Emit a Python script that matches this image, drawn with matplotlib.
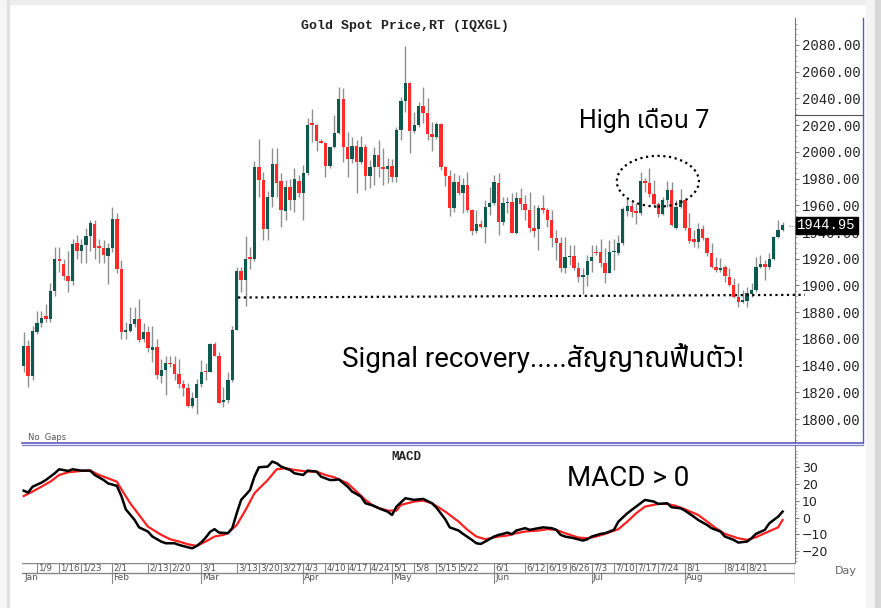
import numpy as np
import pandas as pd
import matplotlib
matplotlib.use('Agg')
from matplotlib import pyplot as plt
from matplotlib.patches import Ellipse, Rectangle
from matplotlib.lines import Line2D

# trading days shown on the chart (all weekdays)
days = pd.bdate_range('2023-01-04', '2023-08-31')

opens = [1840, 1855, 1832, 1865, 1872, 1877, 1875, 1896, 1920, 1916,
         1907, 1903, 1932, 1926, 1930, 1937, 1946, 1928.5, 1928, 1922,
         1928, 1950, 1912, 1865, 1866, 1871, 1875, 1860, 1865, 1852,
         1854, 1832, 1837, 1842, 1841, 1834, 1826, 1823, 1810, 1816,
         1826, 1836, 1835, 1856, 1847, 1813, 1814, 1829, 1867, 1911,
         1904, 1921, 1920, 1989, 1979, 1942, 1966, 1991, 1978, 1956,
         1974, 1964, 1978, 1969.5, 1984, 2020.5, 2020, 2008.4, 2007, 1989.4,
         2003.4, 2014.4, 2039.3, 2004, 1994.4, 2004.4, 1992.7, 2004, 1982, 1988.4,
         1997.7, 1988.4, 1987, 1989.4, 1981.4, 2016.4, 2038.3, 2051.3, 2015.9, 2020.1,
         2034.3, 2029.3, 2013.4, 2010.9, 2020.6, 1988.9, 1982, 1957.7, 1977.2, 1969,
         1975.2, 1956.5, 1940.8, 1946, 1944, 1959, 1962, 1977, 1947.8, 1961.5,
         1962.7, 1939, 1965.7, 1960.7, 1956.5, 1942.8, 1942, 1957.7, 1956.5, 1949,
         1935.3, 1931.6, 1912.8, 1921.1, 1922.3, 1912.8, 1906.6, 1907.9, 1918.6, 1925.3,
         1925.3, 1916.6, 1909.6, 1924.8, 1924.1, 1931.6, 1956, 1959.5, 1955.7, 1954,
         1978.4, 1976.4, 1968.5, 1961, 1953.5, 1964, 1971.5, 1942.8, 1959, 1964,
         1942.8, 1934.5, 1932.8, 1942.3, 1935.3, 1924.1, 1913.6, 1911.6, 1913.6, 1906.6,
         1900.4, 1891.6, 1887.9, 1888.6, 1893.6, 1896.6, 1914.1, 1916.1, 1913.6, 1919.6,
         1936, 1941.5]
highs = [1865, 1859, 1870, 1881, 1881, 1886, 1902, 1929, 1929, 1920,
         1926, 1935, 1938, 1935, 1943, 1949, 1949, 1935, 1934, 1932,
         1959, 1954, 1919, 1873, 1884, 1884, 1890, 1872, 1870, 1870,
         1860, 1845, 1847, 1847, 1847, 1845, 1829, 1827, 1820, 1830,
         1844, 1842, 1857, 1858, 1850, 1824, 1835, 1870, 1914, 1914,
         1937, 1929, 1993, 2010, 1985, 1971, 2003, 2003, 1984, 1979,
         1980, 1988, 1983, 1990, 2025, 2032, 2020.5, 2010, 2007.6, 2004,
         2027.6, 2048.8, 2047.6, 2015, 2011.4, 2009, 2012, 2006, 1994, 2003.4,
         2009, 2002.6, 1995.2, 1994.4, 2018.9, 2041.3, 2079, 2052.5, 2030.1, 2037.6,
         2048.3, 2040.1, 2022.6, 2022.6, 2021.4, 1989.4, 1986.4, 1983.9, 1982.7, 1980.2,
         1985.2, 1957, 1956.5, 1949, 1964, 1974, 1982.7, 1984, 1966.5, 1966,
         1969.5, 1970.2, 1972.7, 1967.7, 1970.2, 1960.2, 1960.2, 1967.7, 1957.7, 1956.5,
         1941.5, 1936.5, 1936.5, 1930.3, 1930.3, 1917.8, 1912.8, 1922.8, 1930.3, 1930.3,
         1934.5, 1927.8, 1934, 1934.5, 1937.8, 1959, 1964.5, 1962.7, 1961.5, 1985.2,
         1980.2, 1987.7, 1978.9, 1962.7, 1966.5, 1978.4, 1977.7, 1964, 1971.9, 1964.5,
         1954.5, 1941.5, 1947, 1945.3, 1936, 1931.5, 1921.1, 1920.3, 1915.3, 1912.8,
         1905.3, 1902.1, 1896.6, 1898.6, 1901.6, 1921.1, 1922.8, 1919.1, 1924.1, 1937,
         1949, 1947.8]
lows = [1835, 1824, 1829, 1864, 1869, 1873, 1873, 1892, 1910, 1904,
        1895, 1900, 1920, 1917, 1917, 1926, 1920, 1917, 1917, 1901,
        1925, 1909, 1860, 1860, 1865, 1869, 1858, 1858, 1850, 1843,
        1830, 1827, 1818, 1839, 1829, 1823, 1817, 1809, 1808, 1804,
        1824, 1829, 1835, 1847, 1812, 1809, 1812, 1828, 1867, 1895,
        1885, 1912, 1918, 1966, 1934, 1934, 1959, 1966, 1944, 1949,
        1956.5, 1955, 1966.5, 1949, 1983, 2007.6, 2001, 2007, 1981, 1987.7,
        2002.6, 2013.4, 1992.7, 1981, 1991.4, 1969, 1991, 1971.5, 1972.7, 1975.2,
        1981, 1975.2, 1976.5, 1977.7, 1977.7, 2008.9, 2030.1, 1999.4, 2013.9, 2018.9,
        2021.4, 2008.9, 2000.9, 2009.4, 1986.4, 1974.5, 1952, 1955.2, 1967.7, 1954.5,
        1955, 1937.8, 1939, 1942.8, 1931.5, 1952.7, 1960.2, 1937.8, 1945.3, 1954,
        1939, 1938.5, 1956.5, 1949, 1940.3, 1936.5, 1926.6, 1954, 1944, 1929.1,
        1919, 1910.3, 1909.6, 1915.3, 1911.6, 1902.9, 1893.6, 1899.6, 1910.3, 1922.8,
        1914.1, 1902.1, 1909.1, 1911.6, 1922.8, 1930.3, 1952, 1951.5, 1946, 1952.7,
        1970.2, 1966.5, 1959, 1951.5, 1952.7, 1959, 1944.5, 1942, 1957.7, 1941.5,
        1932, 1929, 1927.8, 1934, 1922, 1912.8, 1910.3, 1910.3, 1902.9, 1899.6,
        1891, 1884.1, 1886.6, 1884.1, 1891.6, 1895.4, 1912.8, 1904.1, 1912, 1919.1,
        1935.3, 1941]
closes = [1855, 1832, 1866, 1872, 1876, 1875, 1896, 1920, 1918, 1907,
          1903, 1931, 1926, 1930, 1937, 1947, 1928, 1928, 1923, 1928,
          1950, 1912, 1865, 1867, 1871, 1875, 1859, 1865, 1853, 1854,
          1833, 1837, 1842, 1841, 1834, 1826, 1823, 1810, 1816, 1826,
          1835, 1835, 1856, 1847, 1812, 1814, 1829, 1867, 1911, 1904,
          1920, 1920, 1989, 1979, 1942, 1966, 1991, 1977, 1956.5, 1974,
          1964, 1980, 1969.5, 1984, 2020, 2020, 2008.4, 2007, 1989.4, 2003.4,
          2014.4, 2039.3, 2004, 1994.4, 2004.4, 1992.7, 2004, 1982, 1988.4, 1997.7,
          1988.4, 1987, 1989.4, 1981.4, 2016.4, 2038.3, 2051.3, 2015.9, 2020.1, 2034.3,
          2029.3, 2013.4, 2010.9, 2020.6, 1988.9, 1982, 1957.7, 1977.2, 1969, 1975.2,
          1956.5, 1940.8, 1946, 1944, 1959, 1962, 1977.2, 1947.8, 1961.5, 1962.7,
          1939, 1965.7, 1960.7, 1956.5, 1942.8, 1941, 1957.7, 1956.5, 1949, 1935.3,
          1931.6, 1912.8, 1921.1, 1922.3, 1912.8, 1906.6, 1907.9, 1918.6, 1921.1, 1924.1,
          1916.6, 1909.6, 1924.8, 1925.3, 1931.6, 1957, 1959.5, 1955.2, 1954, 1978.4,
          1976.4, 1968.5, 1961, 1953.5, 1964, 1971.5, 1945.3, 1959, 1964, 1942.8,
          1933.5, 1932.8, 1942.3, 1935.3, 1924.1, 1913.6, 1911.6, 1912.8, 1907.1, 1900.4,
          1891.6, 1887.9, 1889.1, 1894.1, 1896.6, 1914.1, 1916.1, 1913.6, 1919.6, 1936,
          1941.5, 1944.95]

# MACD line (black) and signal line (red), read at these trading-day indices
macd_idx = [0, 1, 2, 4, 5, 7, 8, 10, 11, 13, 15, 16, 18, 19, 21, 22, 23, 25, 26, 28,
            29, 31, 32, 34, 35, 37, 38, 39, 40, 41, 42, 43, 44, 46, 47, 48, 49, 51, 52, 53,
            55, 56, 57, 58, 60, 61, 63, 64, 66, 67, 69, 70, 71, 73, 74, 76, 77, 79, 80, 82,
            83, 84, 86, 88, 90, 92, 93, 95, 96, 98, 99, 101, 102, 103, 104, 106, 107, 108, 109, 110,
            111, 113, 114, 116, 117, 119, 120, 121, 122, 124, 126, 127, 128, 130, 131, 133, 134, 136, 137, 139,
            140, 142, 143, 145, 146, 148, 149, 151, 152, 154, 155, 157, 158, 160, 161, 163, 164, 165, 167, 168,
            170, 171]
macd_val = [16.1, 15.0, 18.5, 20.9, 22.5, 26.5, 28.9, 27.9, 28.9, 28.1, 28.1, 25.5, 22.5, 20.5, 19.0, 13.0, 5.0, -1.4, -5.8, -8.3,
            -11.3, -14.3, -15.3, -15.3, -16.3, -17.7, -18.3, -16.9, -14.8, -12.0, -8.5, -6.9, -8.9, -9.3, -6.3, 2.6, 10.6, 16.5, 24.5, 30.1,
            30.5, 33.5, 32.5, 30.5, 28.5, 26.5, 25.5, 28.1, 27.5, 24.5, 22.5, 22.5, 22.9, 18.5, 15.6, 12.6, 8.6, 7.0, 5.6, 3.6,
            1.6, 6.6, 11.6, 10.6, 11.2, 8.6, 6.0, -1.0, -5.8, -7.7, -9.7, -13.3, -15.3, -15.7, -14.3, -11.3, -10.3, -9.7, -8.9, -9.9,
            -7.7, -6.3, -7.3, -6.3, -5.8, -6.3, -7.3, -10.3, -11.3, -12.3, -13.7, -12.9, -11.3, -9.7, -9.3, -7.3, -2.4, 2.6, 4.6, 8.6,
            10.6, 9.6, 8.2, 8.6, 6.2, 5.6, 4.2, 0.6, -1.4, -4.4, -6.3, -8.3, -11.3, -13.3, -14.9, -14.3, -12.3, -9.7, -7.3, -3.4,
            0.6, 3.6]
sig_idx = [0, 2, 4, 6, 8, 10, 13, 15, 17, 19, 21, 22, 24, 26, 28, 31, 33, 35, 37, 39,
           41, 43, 45, 46, 48, 50, 52, 55, 57, 59, 61, 64, 66, 68, 70, 73, 75, 77, 79, 82,
           84, 85, 88, 90, 92, 95, 98, 100, 102, 104, 107, 109, 111, 113, 116, 118, 120, 122, 125, 127,
           129, 131, 134, 136, 138, 140, 143, 145, 147, 149, 152, 154, 156, 158, 161, 163, 165, 167, 170, 171]
sig_val = [12.9, 15.6, 18.5, 21.5, 25.5, 27.1, 27.9, 28.1, 25.5, 23.5, 21.5, 17.0, 8.6, 1.6, -5.4, -10.3, -12.9, -14.3, -15.9, -16.9,
           -14.3, -11.3, -10.3, -9.3, -4.4, 4.6, 14.6, 22.5, 28.9, 29.5, 28.5, 27.5, 27.5, 25.5, 24.1, 20.5, 15.6, 10.6, 6.6, 4.2,
           4.2, 7.6, 9.6, 10.2, 8.6, 3.6, -2.4, -7.3, -11.3, -12.9, -11.3, -10.7, -9.3, -8.3, -7.7, -6.9, -7.3, -9.3, -11.9, -12.3,
           -11.3, -9.7, -6.9, -2.4, 2.6, 6.6, 8.2, 8.2, 7.0, 5.0, 1.6, -2.4, -6.3, -9.7, -12.3, -13.3, -11.7, -9.3, -5.8, -1.4]

price_ticks = list(range(1800, 2081, 20))
macd_ticks = [-20, -10, 0, 10, 20, 30]
day_labels = ['1/9', '1/16', '1/23', '2/1', '2/13', '2/20', '3/1', '3/13', '3/20', '3/27',
              '4/3', '4/10', '4/17', '4/24', '5/1', '5/8', '5/15', '5/22', '6/1', '6/12',
              '6/19', '6/26', '7/3', '7/10', '7/17', '7/24', '8/1', '8/14', '8/21']
month_labels = ['Jan', 'Feb', 'Mar', 'Apr', 'May', 'Jun', 'Jul', 'Aug']
last_price = 1944.95
support_level = [1891, 1893]
july_high = 1978

W, H = 881, 608
def fx(x): return x / W
def fy(y): return 1 - y / H

green = '#0b5a50'
red = '#ff2b2b'
wick = '#8f8f8f'
blue = '#5b5bbf'
thai = ['Roboto', 'Noto Sans Thai', 'Noto Sans Thai Looped', 'Loma', 'Garuda', 'DejaVu Sans']

fig = plt.figure(figsize=(W / 100, H / 100), dpi=100)
fig.patch.set_facecolor('white')

# outer light frame
fig.patches.append(Rectangle((0, fy(4)), 1, 4 / H, transform=fig.transFigure, color='#eeeeee', zorder=0))
fig.patches.append(Rectangle((0, 0), 7 / W, 1, transform=fig.transFigure, color='#f6f6f6', zorder=0))
fig.patches.append(Rectangle((fx(7), 0), 2 / W, 1, transform=fig.transFigure, color='#e2e2e2', zorder=0))
fig.patches.append(Rectangle((fx(866), 0), 9 / W, 1, transform=fig.transFigure, color='#f4f4f4', zorder=0))
fig.patches.append(Rectangle((fx(875), 0), 6 / W, 1, transform=fig.transFigure, color='#d8d8d8', zorder=0))

L, R = fx(22), fx(795)
ax = fig.add_axes([L, fy(443), R - L, fy(18) - fy(443)])
axm = fig.add_axes([L, fy(563), R - L, fy(445) - fy(563)])
axd = fig.add_axes([L, fy(590), R - L, fy(563) - fy(590)])
xlim = (-0.38, 173.8)

# ---- candles
x = np.arange(len(days))
o = np.array(opens); h = np.array(highs); l = np.array(lows); c = np.array(closes)
up = c >= o
ax.vlines(x, l, h, color=wick, lw=1, zorder=2)
body = np.maximum(np.abs(c - o), 1.3)
ax.bar(x, body, bottom=np.minimum(o, c), width=0.76,
       color=np.where(up, green, red), edgecolor='none', zorder=3)

ax.set_xlim(*xlim)
ax.set_ylim(1782.1, 2100.2)
for s in ['top', 'left', 'bottom']:
    ax.spines[s].set_visible(False)
ax.spines['right'].set_color('#777777')
ax.set_xticks([])
ax.yaxis.tick_right()
ax.set_yticks(price_ticks)
ax.set_yticklabels(['%.2f' % v for v in price_ticks], family='Liberation Mono', fontsize=10, color='#222222')
ax.set_yticks(np.arange(1784, 2100, 4), minor=True)
ax.tick_params(axis='y', which='major', length=3, width=0.8, color='#777777', pad=2)
ax.tick_params(axis='y', which='minor', length=1.5, width=0.6, color='#999999')

# support line and July high
ax.plot([48.3, 176.0], support_level, color='black', lw=1.6, ls=(0, (1, 1.6)), clip_on=False, zorder=4)
ax.add_patch(Ellipse((142.9, july_high), 18.5, 38, fill=False, ec='black', lw=1.6, ls=(0, (1, 1.6)), zorder=4))

# last price box
ax.text(1.003, (last_price - 1782.1) / (2100.2 - 1782.1), '%.2f' % last_price, transform=ax.transAxes,
        family='Liberation Mono', fontsize=10, color='white', va='center', ha='left', zorder=10,
        bbox=dict(boxstyle='square,pad=0.12', fc='black', ec='black'), clip_on=False)

# ---- MACD panel
axm.plot(macd_idx, macd_val, color='black', lw=1.8, zorder=3)
axm.plot(sig_idx, sig_val, color='#ff2020', lw=1.6, zorder=2)
axm.set_xlim(*xlim)
axm.set_ylim(-27.1, 43.4)
for s in ['top', 'left', 'bottom']:
    axm.spines[s].set_visible(False)
axm.spines['right'].set_color('#777777')
axm.set_xticks([])
axm.yaxis.tick_right()
axm.set_yticks(macd_ticks)
axm.set_yticklabels([('\u2212%d' % -v) if v < 0 else '%d' % v for v in macd_ticks],
                    fontsize=9, color='#222222')
axm.set_yticks(np.arange(-26, 42, 2), minor=True)
axm.tick_params(axis='y', which='major', length=3, width=0.8, color='#777777', pad=2)
axm.tick_params(axis='y', which='minor', length=1.5, width=0.6, color='#999999')

# ---- date strip
axd.set_xlim(*xlim)
axd.set_ylim(0, 1)
axd.axis('off')
axd.plot([0, 1], [1, 1], transform=axd.transAxes, color='#888888', lw=1)
axd.plot([0, 1], [0.64, 0.64], transform=axd.transAxes, color='#888888', lw=1)
axd.plot([1, 1], [0.26, 1], transform=axd.transAxes, color='#777777', lw=1)
for lab in day_labels:
    mth, dd = lab.split('/')
    i = days.get_loc(pd.Timestamp(2023, int(mth), int(dd)))
    axd.plot([i, i], [0.64, 1], color='#888888', lw=0.8)
    axd.text(i + 0.25, 0.82, lab, fontsize=6.3, color='#555555', va='center', ha='left')
for k, lab in enumerate(month_labels):
    i = int(np.argmax(days.month == k + 1))
    if k > 0:
        axd.plot([i, i], [0.26, 0.64], color='#888888', lw=0.8)
    axd.text(i + 0.25, 0.45, lab, fontsize=6.5, color='#555555', va='center', ha='left')

# ---- frame lines
fig.add_artist(Line2D([fx(22), fx(863)], [fy(442.6), fy(442.6)], color=blue, lw=1.2))
fig.add_artist(Line2D([fx(22), fx(863)], [fy(445.2), fy(445.2)], color=blue, lw=0.9, alpha=0.8))
fig.add_artist(Line2D([fx(863), fx(863)], [fy(18), fy(443)], color=blue, lw=1.0))
fig.add_artist(Line2D([fx(795), fx(863)], [fy(114.5), fy(114.5)], color='#555555', lw=0.8))
fig.add_artist(Line2D([fx(789), fx(794)], [fy(226), fy(226)], color='#888888', lw=0.8, ls=(0, (1, 1))))

# ---- texts
fig.text(fx(405), fy(26), 'Gold Spot Price,RT (IQXGL)', family='Liberation Mono', fontweight='bold',
         fontsize=9.5, color='#222222', ha='center', va='center')
fig.text(fx(406), fy(457), 'MACD', family='Liberation Mono', fontweight='bold',
         fontsize=9, color='#222222', ha='center', va='center')
fig.text(fx(28), fy(437), 'No  Gaps', fontsize=6, color='#555555', ha='left', va='center')
fig.text(fx(846), fy(571), 'Day', fontsize=8, color='#666666', ha='center', va='center')

fig.text(fx(579), fy(120), 'High เดือน 7', family=thai, fontsize=18, color='black', ha='left', va='center')
fig.text(fx(342), fy(358), 'Signal recovery.....สัญญาณฟื้นตัว!', family=thai, fontsize=20,
         color='black', ha='left', va='center')
fig.text(fx(567), fy(479), 'MACD > 0', family=thai, fontsize=20, color='black', ha='left', va='center')

fig.savefig('out.png', dpi=100, facecolor=fig.get_facecolor())
